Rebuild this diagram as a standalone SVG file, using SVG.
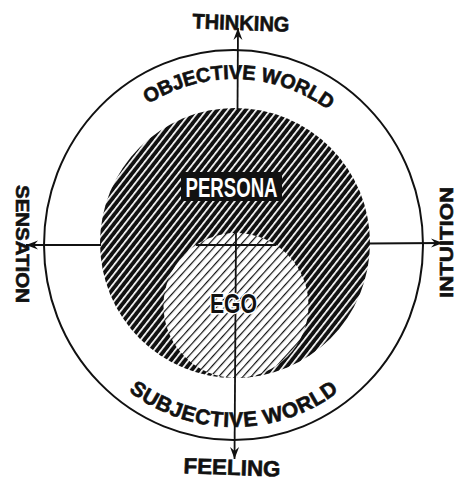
<svg xmlns="http://www.w3.org/2000/svg" width="463" height="486" viewBox="0 0 463 486">
<style>
.lbl{font-family:"Liberation Sans",Arial,sans-serif;font-weight:bold;fill:#111;stroke:#111;stroke-width:0.6}
.ax{stroke:#111;stroke-width:1.8;fill:none}
</style>
<defs>
<pattern id="darkHatch" patternUnits="userSpaceOnUse" width="5.6" height="10" patternTransform="rotate(38)">
<rect width="5.6" height="10" fill="#111"/>
<rect x="0" y="0" width="1.7" height="10" fill="#fff"/>
</pattern>
<pattern id="lightHatch" patternUnits="userSpaceOnUse" width="6" height="10" patternTransform="rotate(42)">
<rect width="6" height="10" fill="#fff"/>
<rect x="0" y="0" width="1.2" height="10" fill="#111"/>
</pattern>
<marker id="arr" markerUnits="userSpaceOnUse" markerWidth="16" markerHeight="12" viewBox="-13 -6 14 12" refX="0" refY="0" orient="auto">
<path d="M0,0 L-12,-4.5 L-8,0 L-12,4.5 Z" fill="#111"/>
</marker>
<path id="topArc" d="M72,245 A162,166 0 0 1 396,245"/>
<path id="botArc" d="M57,245 A177,182 0 0 0 411,245"/>
</defs>
<rect width="463" height="486" fill="#fff"/>
<g id="outer-circle">
<ellipse cx="233.5" cy="245" rx="189.5" ry="195" fill="none" stroke="#111" stroke-width="2"/>
</g>
<g id="persona">
<circle cx="235" cy="243" r="135" fill="url(#darkHatch)"/>
</g>
<g id="ego">
<circle cx="236" cy="305.5" r="72.5" fill="url(#lightHatch)"/>
</g>
<g id="connectors">
<line class="ax" x1="237.5" y1="109" x2="238" y2="28" marker-end="url(#arr)"/>
<line class="ax" x1="236" y1="233" x2="234.5" y2="459" marker-end="url(#arr)"/>
<line class="ax" x1="101" y1="245" x2="26" y2="245" marker-end="url(#arr)"/>
<line class="ax" x1="368" y1="243.5" x2="443" y2="243" marker-end="url(#arr)"/>
<line class="ax" x1="196" y1="245" x2="276" y2="245"/>
</g>
<g id="persona-label">
<rect x="181" y="172" width="101" height="29" fill="#111"/>
<text x="231.5" y="197" text-anchor="middle" font-size="27" textLength="92" lengthAdjust="spacingAndGlyphs" class="lbl" style="fill:#fff;stroke:none">PERSONA</text>
</g>
<g id="ego-label">
<text x="233.5" y="313" text-anchor="middle" font-size="27" textLength="47" lengthAdjust="spacingAndGlyphs" class="lbl" style="stroke:#fff;stroke-width:3;paint-order:stroke">EGO</text>
</g>
<g id="thinking">
<text class="lbl" x="241" y="30" text-anchor="middle" font-size="21" textLength="97" lengthAdjust="spacingAndGlyphs" transform="rotate(2 241 23)">THINKING</text>
</g>
<g id="feeling">
<text class="lbl" x="232" y="475" text-anchor="middle" font-size="22" textLength="97" lengthAdjust="spacingAndGlyphs" transform="rotate(2 232 467)">FEELING</text>
</g>
<g id="sensation">
<text class="lbl" x="0" y="0" text-anchor="middle" font-size="19" textLength="118" lengthAdjust="spacingAndGlyphs" transform="translate(15.5 244) rotate(90)">SENSATION</text>
</g>
<g id="intuition">
<text class="lbl" x="0" y="0" text-anchor="middle" font-size="19" textLength="111" lengthAdjust="spacingAndGlyphs" transform="translate(453 242.5) rotate(-90)">INTUITION</text>
</g>
<g id="objective-world">
<text class="lbl" font-size="20" letter-spacing="-0.2"><textPath href="#topArc" startOffset="51%" text-anchor="middle">OBJECTIVE WORLD</textPath></text>
</g>
<g id="subjective-world">
<text class="lbl" font-size="21" letter-spacing="0.6"><textPath href="#botArc" startOffset="50%" text-anchor="middle">SUBJECTIVE WORLD</textPath></text>
</g>
</svg>
